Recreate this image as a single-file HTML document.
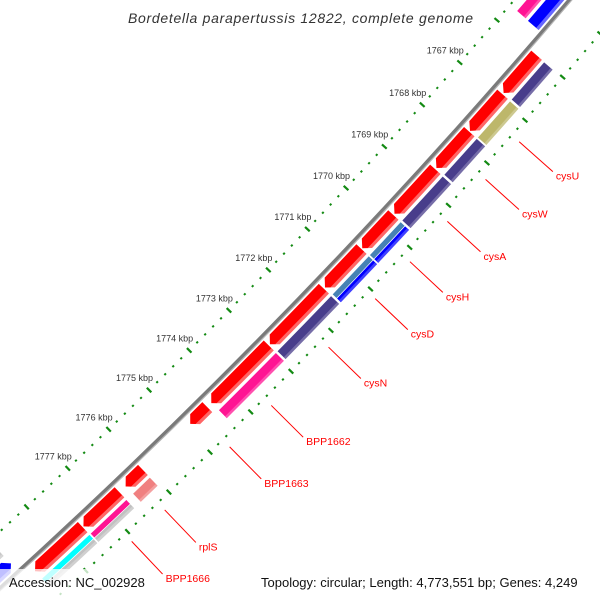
<!DOCTYPE html>
<html><head><meta charset="utf-8"><style>
html,body{margin:0;padding:0;background:#fff;width:600px;height:600px;overflow:hidden;}
svg{display:block;font-family:"Liberation Sans",sans-serif;}
</style></head><body>
<svg id="map" width="600" height="600" viewBox="0 0 600 600" xmlns="http://www.w3.org/2000/svg">
<rect x="0" y="0" width="600" height="600" fill="#fff"/>
<g id="layer"></g>
<text x="128" y="23" font-size="14" font-style="italic" fill="#333" letter-spacing="0.7">Bordetella parapertussis 12822, complete genome</text>
<rect x="0" y="569" width="152" height="31" fill="#fff" fill-opacity="0.75"/>
<rect x="254" y="569" width="346" height="31" fill="#fff" fill-opacity="0.75"/>
<text x="9" y="587" font-size="13" fill="#111">Accession: NC_002928</text>
<text x="261" y="587" font-size="13" fill="#111">Topology: circular; Length: 4,773,551 bp; Genes: 4,249</text>
</svg>
<script>
// ---- data (kbp) ----
const geneStart = [1766.01,1766.92,1767.80,1768.69,1769.78,1770.60,1771.56,1772.95,1774.48,1776.06,1776.63,1777.52,1763.00,1778.88];
const geneEnd   = [1766.89,1767.78,1768.66,1769.75,1770.58,1771.53,1772.92,1774.38,1774.90,1776.48,1777.50,1778.66,1765.65,1781.00];
const geneStrand= [1,1,1,1,1,1,1,1,1,1,1,1,-1,-1];
const cogInner  = ['#483d8b','#bdb76b','#483d8b','#483d8b','#4682b4','#4682b4','#483d8b','#ff1493','','#f08080','#ff1493','#00ffff','#ff1493','#c8c8c8'];
const cogOuter  = ['#483d8b','#bdb76b','#483d8b','#483d8b','#0000ff','#0000ff','#483d8b','#ff1493','','#f08080','#c0c0c0','#c0c0c0','#ff1493','#c8c8c8'];
const geneLabel = ['','cysU','cysW','cysA','cysH','cysD','cysN','BPP1662','BPP1663','rplS','BPP1666','','',''];
const tickLabels = [1767,1768,1769,1770,1771,1772,1773,1774,1775,1776,1777];

// ---- geometry ----
const CX=-4212, CY=-4059, R=6272, A0=41.42, DPK=0.519, K0=1767;
function ang(k){return (A0+(k-K0)*DPK)*Math.PI/180;}
function pt(k,d){const a=ang(k);return [CX+(R+d)*Math.cos(a),CY+(R+d)*Math.sin(a)];}
function f(p){return p[0].toFixed(2)+','+p[1].toFixed(2);}
const NS='http://www.w3.org/2000/svg';
const layer=document.getElementById('layer');
function mk(tag,attrs){const e=document.createElementNS(NS,tag);for(const a in attrs)e.setAttribute(a,attrs[a]);layer.appendChild(e);return e;}
function band(k1,k2,d1,d2){
  return 'M'+f(pt(k1,d2))+' A'+(R+d2)+','+(R+d2)+' 0 0 1 '+f(pt(k2,d2))+' L'+f(pt(k2,d1))+' A'+(R+d1)+','+(R+d1)+' 0 0 0 '+f(pt(k1,d1))+'Z';
}
function arrow(k1,k2,d1,d2,dir){
  const h=Math.min(0.12,(k2-k1)*0.6), m=(d1+d2)/2;
  if(dir>0){
    return 'M'+f(pt(k1,d2))+' A'+(R+d2)+','+(R+d2)+' 0 0 1 '+f(pt(k2-h,d2))+' L'+f(pt(k2,m))+' L'+f(pt(k2-h,d1))+' A'+(R+d1)+','+(R+d1)+' 0 0 0 '+f(pt(k1,d1))+'Z';
  }
  return 'M'+f(pt(k1,m))+' L'+f(pt(k1+h,d2))+' A'+(R+d2)+','+(R+d2)+' 0 0 1 '+f(pt(k2,d2))+' L'+f(pt(k2,d1))+' A'+(R+d1)+','+(R+d1)+' 0 0 0 '+f(pt(k1+h,d1))+'Z';
}
function arcLine(k1,k2,d){return 'M'+f(pt(k1,d))+' A'+(R+d)+','+(R+d)+' 0 0 1 '+f(pt(k2,d));}

// backbone
let e;
e=mk('path',{d:arcLine(1762,1782,0),stroke:'#7a7a7a','stroke-width':4,fill:'none'});


e=mk('path',{d:arcLine(1762,1782,1.8),stroke:'#b4b4b4','stroke-width':1.2,fill:'none'});



// rulers
[-42,45].forEach(function(d){
  for(let i=0;i<=90;i++){
    const k=1763+i*0.2, major=(i%5===0);
    const len=major?3.2:1;
    const p1=pt(k,d-len), p2=pt(k,d+len);
    const t=mk('line',{x1:p1[0],y1:p1[1],x2:p2[0],y2:p2[1],stroke:'#138a13','stroke-width':2.2});
    
    
  }
});
tickLabels.forEach(function(k){
  const p=pt(k,-42);
  const t=mk('text',{x:p[0]+4,y:p[1]-9,'text-anchor':'end','font-size':9,fill:'#333'});
  t.textContent=k+' kbp';
  
  
});

// genes
for(let i=0;i<geneStart.length;i++){
  const k1=geneStart[i], k2=geneEnd[i], s=geneStrand[i];
  const c1=s>0?4:-18, c2=s>0?18:-4;
  const g=mk('path',{d:arrow(k1,k2,c1,c2,s),fill:s>0?'#ff0000':'#0000ff'});
  
  
  const hl=mk('path',{d:band(s>0?k1:k1+0.06,s>0?k2-0.07:k2,c2-3.2,c2),fill:'#fff','fill-opacity':0.4});
  
  
  if(cogInner[i]){
    const q1=s>0?21:-33, q2=s>0?33:-21, qm=(q1+q2)/2;
    if(cogInner[i]===cogOuter[i]){
      const b=mk('path',{d:band(k1,k2,q1,q2),fill:cogInner[i],stroke:'#fff','stroke-width':0.8});
      
      
    } else {
      const b1=mk('path',{d:band(k1,k2,q1,qm),fill:cogInner[i],stroke:'#fff','stroke-width':0.6});
      
      
      const b2=mk('path',{d:band(k1,k2,qm,q2),fill:cogOuter[i],stroke:'#fff','stroke-width':0.6});
      
      
    }
    const h2=mk('path',{d:band(k1+0.01,k2-0.01,q2-3,q2),fill:'#fff','fill-opacity':0.25});
    
    
  }
  if(geneLabel[i]){
    const km=(k1+k2)/2, a=pt(km,55), b=pt(km,100);
    const ln=mk('line',{x1:a[0],y1:a[1],x2:b[0],y2:b[1],stroke:'#ff0000','stroke-width':1});
    
    
    const tx=mk('text',{x:b[0]+3,y:b[1]+8,'font-size':10.5,fill:'#ff0000'});
    tx.textContent=geneLabel[i];
    
    
  }
}
</script>
</body></html>
